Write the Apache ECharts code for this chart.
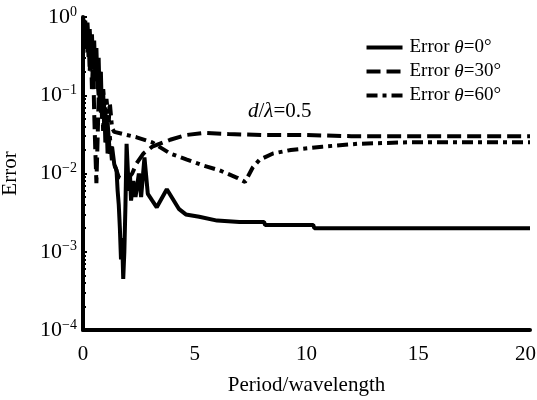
<!DOCTYPE html>
<html><head><meta charset="utf-8">
<script src="https://cdn.jsdelivr.net/npm/echarts@6/dist/echarts.min.js"></script>
<style>html,body{margin:0;padding:0;background:#fff}#c{width:537px;height:400px}</style>
</head><body><div id="c"></div>
<script>
const seriesNames = ['Error θ=0°', 'Error θ=30°', 'Error θ=60°'];
const xTicks = [0, 5, 10, 15, 20];
const yTickExponents = [0, -1, -2, -3, -4];
const error0 = [[0,0.95],[0.05,0.7],[0.1,0.9],[0.15,0.6],[0.2,0.85],[0.25,0.45],[0.3,0.7],[0.35,0.35],[0.4,0.6],[0.45,0.25],[0.5,0.5],[0.55,0.18],[0.6,0.4],[0.65,0.12],[0.7,0.3],[0.75,0.08],[0.8,0.2],[0.85,0.05],[0.9,0.12],[0.95,0.035],[1.0,0.07],[1.05,0.025],[1.1,0.045],[1.2,0.018],[1.3,0.022],[1.4,0.013],[1.5,0.011],[1.55,0.006],[1.6,0.004],[1.65,0.002],[1.7,0.0008],[1.75,0.0015],[1.8,0.00045],[1.85,0.001],[1.9,0.004],[1.95,0.024],[2.0,0.012],[2.05,0.006],[2.1,0.01],[2.15,0.0045],[2.25,0.008],[2.35,0.005],[2.5,0.01],[2.6,0.005],[2.75,0.016],[2.9,0.0055],[3.1,0.0045],[3.3,0.0037],[3.75,0.0063],[4.3,0.0035],[4.6,0.003],[5.2,0.0028],[6.0,0.0025],[7.0,0.0024],[8.1,0.0024],[8.15,0.0022],[10.3,0.0022],[10.35,0.002],[20,0.002]];
const error30 = [[0,1.0],[0.05,0.8],[0.1,0.5],[0.15,0.75],[0.2,0.35],[0.25,0.6],[0.3,0.2],[0.35,0.45],[0.4,0.12],[0.45,0.3],[0.5,0.06],[0.55,0.02],[0.6,0.0075],[0.65,0.025],[0.7,0.09],[0.75,0.2],[0.8,0.06],[0.85,0.12],[0.9,0.035],[0.95,0.08],[1.0,0.025],[1.05,0.05],[1.1,0.018],[1.2,0.03],[1.3,0.014],[1.45,0.012],[1.6,0.009],[1.8,0.0085],[2.0,0.0085],[2.2,0.01],[2.4,0.0135],[2.7,0.018],[3.1,0.022],[3.9,0.027],[4.6,0.031],[5.4,0.033],[6.5,0.032],[8,0.031],[10,0.031],[12,0.03],[15,0.03],[20,0.03]];
const error60 = [[0,0.9],[0.05,0.55],[0.1,0.8],[0.15,0.4],[0.2,0.65],[0.25,0.3],[0.3,0.5],[0.4,0.22],[0.45,0.35],[0.55,0.15],[0.6,0.25],[0.7,0.1],[0.75,0.18],[0.85,0.07],[0.9,0.12],[1.0,0.05],[1.05,0.09],[1.15,0.045],[1.2,0.08],[1.3,0.038],[1.4,0.034],[2.4,0.029],[3.1,0.025],[3.9,0.018],[4.65,0.015],[5.4,0.0126],[6.1,0.011],[6.9,0.0088],[7.25,0.0078],[7.6,0.012],[7.9,0.015],[8.5,0.018],[9.3,0.020],[10.7,0.022],[12.3,0.024],[14.5,0.025],[20,0.025]];

const font = 'Liberation Serif';
const chart = echarts.init(document.getElementById('c'), null, {renderer:'canvas'});
const rich = {
  n:{fontFamily:font,fontSize:19,color:'#000'},
  i:{fontFamily:font,fontSize:19,color:'#000',fontStyle:'italic'}
};
const richAnn = {
  n:{fontFamily:font,fontSize:21,color:'#000'},
  i:{fontFamily:font,fontSize:21,color:'#000',fontStyle:'italic'}
};
function legendFmt(name){
  const m = name.match(/^Error θ(=.*)$/);
  return '{n|Error }{i|θ}{n|' + m[1] + '}';
}
const lineStyles = [
  {width:4, color:'#000', type:'solid'},
  {width:4, color:'#000', type:[14,6]},
  {width:4, color:'#000', type:[11,5,4,5]}
];
const datas = [error0, error30, error60];
const xMax = xTicks[xTicks.length-1];
chart.setOption({
  animation:false,
  backgroundColor:'#fff',
  grid:{left:83, right:7, top:17, bottom:70, outerBoundsMode:'none', containLabel:false},
  legend:{
    right:31, top:33, orient:'vertical', itemGap:5, itemWidth:36, itemHeight:14,
    itemStyle:{opacity:0}, lineStyle:{width:4},
    formatter:legendFmt, textStyle:{rich:rich, fontFamily:font, fontSize:19, color:'#000', padding:[0,0,0,2]},
    data:seriesNames
  },
  xAxis:{
    type:'value', min:xTicks[0], max:xMax, interval:5,
    name:'Period/wavelength', nameLocation:'middle', nameGap:45,
    nameTextStyle:{fontFamily:font, fontSize:21, color:'#000'},
    axisLine:{lineStyle:{color:'#000', width:4}},
    axisTick:{show:false}, splitLine:{show:false},
    axisLabel:{fontFamily:font, fontSize:21, color:'#000', margin:14,
      formatter:v => v === xMax ? '{m|' + v + '}' : (xTicks.includes(v) ? String(v) : ''),
      rich:{m:{fontFamily:font, fontSize:21, color:'#000', width:30, align:'left'}}}
  },
  yAxis:{
    type:'log', logBase:10, min:Math.pow(10, Math.min(...yTickExponents)), max:Math.pow(10, Math.max(...yTickExponents)),
    name:'Error', nameLocation:'middle', nameGap:62,
    nameTextStyle:{fontFamily:font, fontSize:21, color:'#000'},
    axisLine:{lineStyle:{color:'#000', width:4}},
    axisTick:{show:true, inside:true, length:4, lineStyle:{color:'#000', width:2}},
    minorTick:{show:true, splitNumber:9, length:3, lineStyle:{color:'#000', width:2}},
    splitLine:{show:false}, minorSplitLine:{show:false},
    axisLabel:{margin:6, formatter:v => {
        const e = Math.round(Math.log10(v));
        return '{b|10}{s|' + (e < 0 ? '\u2212' + (-e) : e) + '}';
      },
      rich:{b:{fontFamily:font, fontSize:22, color:'#000'}, s:{fontFamily:font, fontSize:14, color:'#000', verticalAlign:'top', padding:[0,0,10,0]}}
    }
  },
  graphic:[{
    type:'text', left:248, top:101,
    style:{rich:richAnn, text:'{i|d}{n|/}{i|λ}{n|=0.5}', fontFamily:font, fontSize:21}
  }],
  series: seriesNames.map((n, k) => ({
    name:n, type:'line', data:datas[k], showSymbol:false, symbol:'none',
    lineStyle:lineStyles[k], itemStyle:{color:'#000'}, z:3-k
  }))
});
</script></body></html>
